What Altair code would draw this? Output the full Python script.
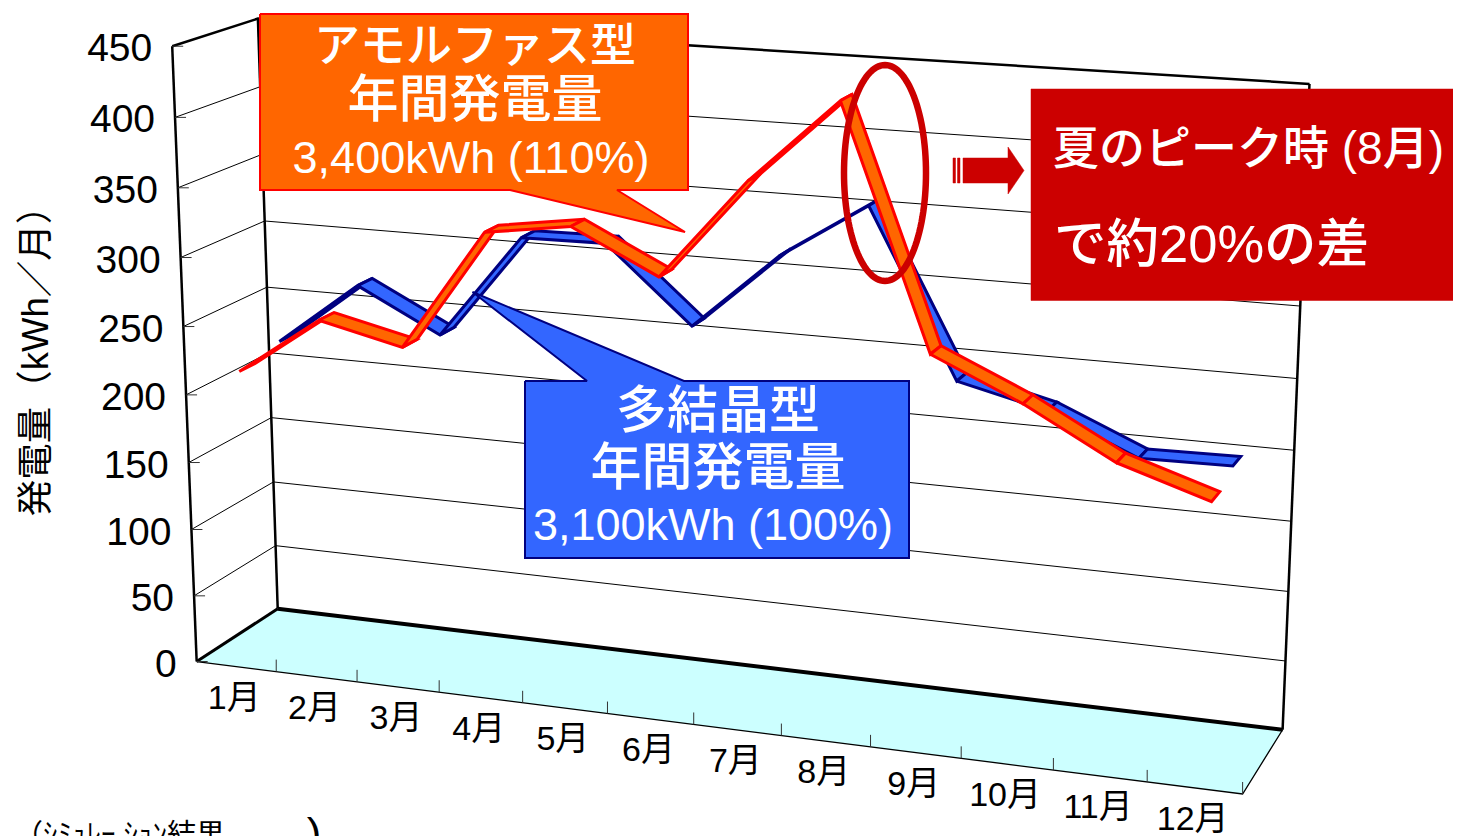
import numpy as np
import pandas as pd
import altair as alt

months = ["1月","2月","3月","4月","5月","6月","7月","8月","9月","10月","11月","12月"]
amorphous = [215,258,244,331,340,310,381,439,273,245,211,191]
polycrystal = [222,269,238,314,315,261,316,356,239,224,197,198]
y_ticks = [0,50,100,150,200,250,300,350,400,450]
FONT = "Liberation Sans, Noto Sans CJK JP"

# Camera of the 3-D chart box: (month position, value, depth) -> page position
camera = [((0,0,0),(196,661)),((0,450,0),(172,46.7)),((0,200,0),(186.7,395)),
          ((0,0,1),(277,609)),((0,450,1),(257,18)),((0,200,1),(271,353)),
          ((12,0,1),(1283,730)),((12,450,1),(1310,84)),((12,200,1),(1293,450)),
          ((12,0,0),(1243,794)),((6,0,0),(694,725)),((3,0,0),(439,692)),((9,0,0),(961,758))]
A = []
for (X,Y,Z),(u,v) in camera:
    m = [X/12,Y/450,Z,1]
    A.append(m+[0,0,0,0]+[-u*t for t in m])
    A.append([0,0,0,0]+m+[-v*t for t in m])
P = np.linalg.svd(np.array(A,float))[2][-1].reshape(3,4)
def proj(X,Y,Z):
    h = P@np.array([X/12,Y/450,Z,1])
    return float(h[0]/h[2]), float(h[1]/h[2])

sx = alt.Scale(domain=[8,1453], nice=False, zero=False)
sy = alt.Scale(domain=[836,8], nice=False, zero=False)
X = alt.X("x:Q", scale=sx, axis=None)
Y = alt.Y("y:Q", scale=sy, axis=None)

def shapes(polys):
    rows = []
    for k,pts in enumerate(polys):
        for o,(x,y) in enumerate(pts):
            rows.append({"id":k,"o":o,"x":x,"y":y})
    return pd.DataFrame(rows)

def path(polys, **mk):
    mk.setdefault("strokeJoin","miter")
    mk.setdefault("strokeMiterLimit",3)
    mk.setdefault("clip",False)
    return alt.Chart(shapes(polys)).mark_line(**mk).encode(
        x=X, y=Y, detail="id:N", order="o:Q")

def closed(pts):
    return list(pts)+[pts[0]]

def ribbon(vals, z1, z2):
    polys = []
    for i in range(11):
        a,b = vals[i],vals[i+1]
        polys.append(closed([proj(i+.5,a,z1),proj(i+1.5,b,z1),proj(i+1.5,b,z2),proj(i+.5,a,z2)]))
    return polys

def label(rows, size, color="black", **mk):
    df = pd.DataFrame(rows, columns=["x","y","t"])
    return alt.Chart(df).mark_text(font=FONT, fontSize=size, color=color, clip=False, **mk).encode(
        x=X, y=Y, text="t:N")

layers = []
# floor
layers.append(path([closed([proj(0,0,0),proj(12,0,0),proj(12,0,1),proj(0,0,1)])], fill="#ccffff", stroke="#ccffff", strokeWidth=0.5))
# grid
grid = [[proj(0,v,0),proj(0,v,1),proj(12,v,1)] for v in y_ticks[1:-1]]
layers.append(path(grid, stroke="black", strokeWidth=1))
# frame
layers.append(path([[proj(0,450,0),proj(0,0,0)]], stroke="black", strokeWidth=2.5))
layers.append(path([[proj(0,0,0),proj(0,0,1)]], stroke="black", strokeWidth=3))
layers.append(path([[proj(0,450,1),proj(0,0,1)],[proj(12,450,1),proj(12,0,1)]], stroke="black", strokeWidth=2.5))
layers.append(path([[proj(0,450,0),proj(0,450,1),proj(12,450,1)]], stroke="black", strokeWidth=2.5))
layers.append(path([[proj(0,0,1),proj(12,0,1)]], stroke="black", strokeWidth=4))
layers.append(path([[proj(0,0,0),proj(12,0,0),proj(12,0,1)]], stroke="black", strokeWidth=1.3))
# ticks on the value axis and on the month axis
layers.append(path([[proj(0,v,0),(proj(0,v,0)[0]+11,proj(0,v,0)[1])] for v in y_ticks], stroke="#333333", strokeWidth=1))
layers.append(path([[proj(i,0,0),(proj(i,0,0)[0],proj(i,0,0)[1]-12)] for i in range(1,13)], stroke="#333333", strokeWidth=1))
# series
layers.append(path(ribbon(polycrystal,.65,.84), fill="#3366ff", stroke="#000080", strokeWidth=3))
layers.append(path(ribbon(amorphous,.16,.35), fill="#ff6600", stroke="#ff0000", strokeWidth=3))
# callouts
layers.append(path([closed([(525,381),(587,381),(472.5,292),(684,381),(909,381),(909,558),(525,558)])], fill="#3366ff", stroke="#000080", strokeWidth=2))
layers.append(path([closed([(260,14),(688,14),(688,190),(617,190),(685,232),(510,190),(260,190)])], fill="#ff6600", stroke="#ff0000", strokeWidth=2))
layers.append(path([closed([(1031,89),(1461,89),(1461,300.5),(1031,300.5)])], fill="#cc0000", stroke="#cc0000", strokeWidth=0.5))
t = np.linspace(0,2*np.pi,121)
layers.append(path([[(885+41*np.cos(a),173+108*np.sin(a)) for a in t]], stroke="#cc0000", strokeWidth=6.5))
layers.append(path([closed([(963,158),(1008,158),(1008,147),(1024,170.5),(1008,194),(1008,183),(963,183)])], fill="#cc0000", stroke="#cc0000", strokeWidth=0.5))
layers.append(path([closed([(953,158),(955.5,158),(955.5,183),(953,183)]),closed([(957.5,158),(960,158),(960,183),(957.5,183)])], fill="#cc0000", stroke="#cc0000", strokeWidth=0.5))
# axis text
rows = []
for v in y_ticks:
    px,py = proj(0,v,0)
    rows.append((px-20,py+3,str(v)))
layers.append(label(rows,39,align="right",baseline="middle"))
rows = []
for i,m in enumerate(months):
    px,py = proj(i+.5,0,0)
    rows.append((px-2,py+32,m))
layers.append(label(rows,34,align="center",baseline="middle"))
layers.append(label([(37,352,"発電量（kWh／月）")],36.5,align="center",baseline="middle",angle=270))
# annotations
layers.append(label([(475,47,"アモルファス型")],46,"white",align="center",baseline="middle",fontWeight=500))
layers.append(label([(475,102,"年間発電量")],51,"white",align="center",baseline="middle",fontWeight=500))
layers.append(label([(471,159,"3,400kWh (110%)")],45,"white",align="center",baseline="middle"))
layers.append(label([(718,413,"多結晶型")],51,"white",align="center",baseline="middle",fontWeight=500))
layers.append(label([(718,470,"年間発電量")],51,"white",align="center",baseline="middle",fontWeight=500))
layers.append(label([(713,526,"3,100kWh (100%)")],45,"white",align="center",baseline="middle"))
layers.append(label([(1053,150,"夏のピーク時 (8月)")],46,"white",align="left",baseline="middle",fontWeight=500))
layers.append(label([(1054,246,"で約20%の差")],52.5,"white",align="left",baseline="middle",fontWeight=500))
layers.append(label([(225,836,"（ｼﾐｭﾚｰ ｼｮﾝ結果")],29,align="right",baseline="middle"))
layers.append(label([(314,836,")")],44,align="center",baseline="middle"))

chart = alt.layer(*layers).properties(
    width=1445, height=828, padding=0, autosize=alt.AutoSizeParams(type="none"),
).configure_view(stroke=None)
chart.save("out.html", embed_options={"renderer":"svg","actions":False})
